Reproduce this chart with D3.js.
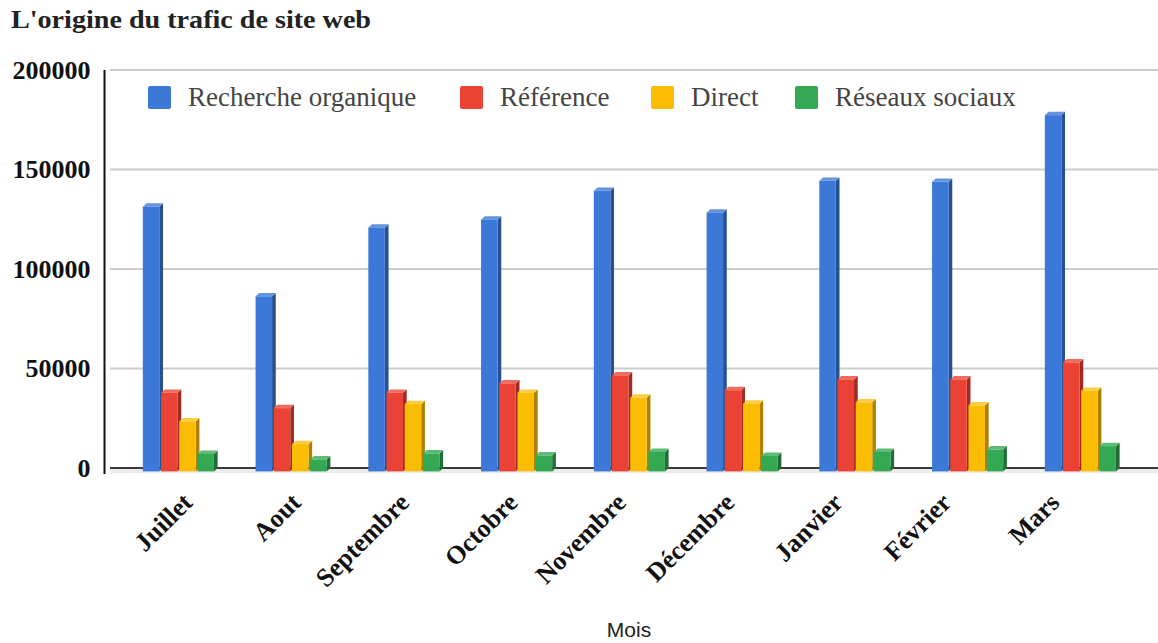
<!DOCTYPE html>
<html>
<head>
<meta charset="utf-8">
<script src="https://cdn.jsdelivr.net/npm/d3@7"></script>
<style>
  html, body { margin: 0; padding: 0; background: #fff; }
  svg { display: block; }
</style>
</head>
<body>
<svg id="chart" width="1158" height="643"></svg>
<script>
// Monthly website traffic by source
const months = ["Juillet", "Aout", "Septembre", "Octobre", "Novembre", "Décembre", "Janvier", "Février", "Mars"];
const seriesNames = ["Recherche organique", "Référence", "Direct", "Réseaux sociaux"];
const organique = [133000, 88000, 122500, 126500, 141000, 130000, 146000, 145500, 179000];
const reference = [39500, 31800, 39500, 44200, 48300, 40800, 46200, 46200, 54800];
const direct    = [25100, 13700, 33800, 39500, 37000, 34000, 34700, 33200, 40500];
const sociaux   = [8800, 6000, 9000, 8000, 9800, 7800, 9800, 11000, 12700];
const yTicks = [0, 50000, 100000, 150000, 200000];
const chartTitle = "L'origine du trafic de site web";
const xTitle = "Mois";

const seriesValues = [organique, reference, direct, sociaux];
// front, side (shaded) and top (lit) faces of each 3D column
const palette = [
  { front: "#3c78d8", side: "#27528f", top: "#6494e0" },
  { front: "#ea4335", side: "#a32a21", top: "#ef6a5f" },
  { front: "#fbbc04", side: "#ae8200", top: "#fccd40" },
  { front: "#34a853", side: "#216d35", top: "#5fbc78" }
];

const svg = d3.select("#chart");
const serif = "'Liberation Serif', 'Times New Roman', serif";

// depth of the 3D extrusion
const dx = 3.7, dy = 3.4;

const y = d3.scaleLinear().domain([0, 200000]).range([468, 70]);
const x0 = d3.scaleBand().domain(months).range([122, 122 + 9 * 112.75]);
const x1 = d3.scaleBand().domain(seriesNames).range([0, 71.1]).paddingInner(0.093);
const gridLeft = 110, gridRight = 1158;

// title
svg.append("text")
  .attr("x", 11).attr("y", 28)
  .attr("font-family", serif).attr("font-weight", "bold")
  .attr("font-size", 25).attr("fill", "#222")
  .attr("textLength", 360).attr("lengthAdjust", "spacingAndGlyphs")
  .text(chartTitle);

// floor strip under the columns
svg.append("path")
  .attr("d", `M${gridLeft},${y(0)} L${gridRight},${y(0)} L${gridRight},${y(0) + dy + 2} L${gridLeft},${y(0) + dy + 2} Z`)
  .attr("fill", "#ececec");

// gridlines on the back wall
svg.append("g").selectAll("line")
  .data(yTicks.filter(d => d !== 0))
  .join("line")
  .attr("x1", gridLeft).attr("x2", gridRight)
  .attr("y1", d => y(d)).attr("y2", d => y(d))
  .attr("stroke", "#cccccc").attr("stroke-width", 2);

// baseline
svg.append("line")
  .attr("x1", gridLeft).attr("x2", gridRight)
  .attr("y1", y(0)).attr("y2", y(0))
  .attr("stroke", "#3a3a3a").attr("stroke-width", 2);

// y axis
const yAxis = svg.append("g")
  .attr("transform", "translate(104.5,0)")
  .call(d3.axisLeft(y).tickValues(yTicks).tickSize(0).tickPadding(14).tickFormat(d3.format("d")));
yAxis.select(".domain").remove();
yAxis.selectAll("text")
  .attr("font-family", serif).attr("font-weight", "bold")
  .attr("font-size", 25).attr("fill", "#111").attr("dy", "0.33em")
  .attr("textLength", d => String(d).length * 13).attr("lengthAdjust", "spacingAndGlyphs");
svg.append("line")
  .attr("x1", 104.5).attr("x2", 104.5)
  .attr("y1", y(200000)).attr("y2", y(0) + 6)
  .attr("stroke", "#111").attr("stroke-width", 2);

// columns
const groups = svg.append("g").selectAll("g")
  .data(months)
  .join("g")
  .attr("transform", m => `translate(${x0(m) + (x0.bandwidth() - 71.1) / 2},0)`);

groups.each(function (m, i) {
  const g = d3.select(this);
  seriesNames.forEach((s, k) => {
    const v = seriesValues[k][i];
    const xl = x1(s), w = x1.bandwidth();
    const yt = y(v) + dy, yb = y(0) + dy;
    const c = palette[k];
    g.append("path")
      .attr("d", `M${xl + w},${yt} L${xl + w + dx},${yt - dy} L${xl + w + dx},${yb - dy} L${xl + w},${yb} Z`)
      .attr("fill", c.side);
    g.append("path")
      .attr("d", `M${xl},${yt} L${xl + dx},${yt - dy} L${xl + w + dx},${yt - dy} L${xl + w},${yt} Z`)
      .attr("fill", c.top);
    g.append("rect")
      .attr("x", xl).attr("y", yt)
      .attr("width", w).attr("height", yb - yt)
      .attr("fill", c.front);
  });
});

// slanted month labels
const xl = d3.scalePoint().domain(months).range([194, 1061]);
svg.append("g").selectAll("text")
  .data(months)
  .join("text")
  .attr("transform", m => `translate(${xl(m)},504) rotate(-45)`)
  .attr("text-anchor", "end")
  .attr("font-family", serif).attr("font-weight", "bold")
  .attr("font-size", 26).attr("fill", "#111")
  .text(m => m);

// x axis title
svg.append("text")
  .attr("x", 629).attr("y", 637)
  .attr("text-anchor", "middle")
  .attr("font-family", "'Liberation Sans', Arial, sans-serif")
  .attr("font-size", 21).attr("fill", "#222")
  .text(xTitle);

// legend
const legendX = [148, 460, 651, 795];
const legend = svg.append("g").selectAll("g")
  .data(seriesNames)
  .join("g")
  .attr("transform", (s, k) => `translate(${legendX[k]},86)`);
legend.append("rect")
  .attr("width", 23).attr("height", 23).attr("rx", 2)
  .attr("fill", (s, k) => palette[k].front);
legend.append("text")
  .attr("x", 40).attr("y", 20)
  .attr("font-family", serif).attr("font-size", 27).attr("fill", "#444")
  .text(s => s);
</script>
</body>
</html>
